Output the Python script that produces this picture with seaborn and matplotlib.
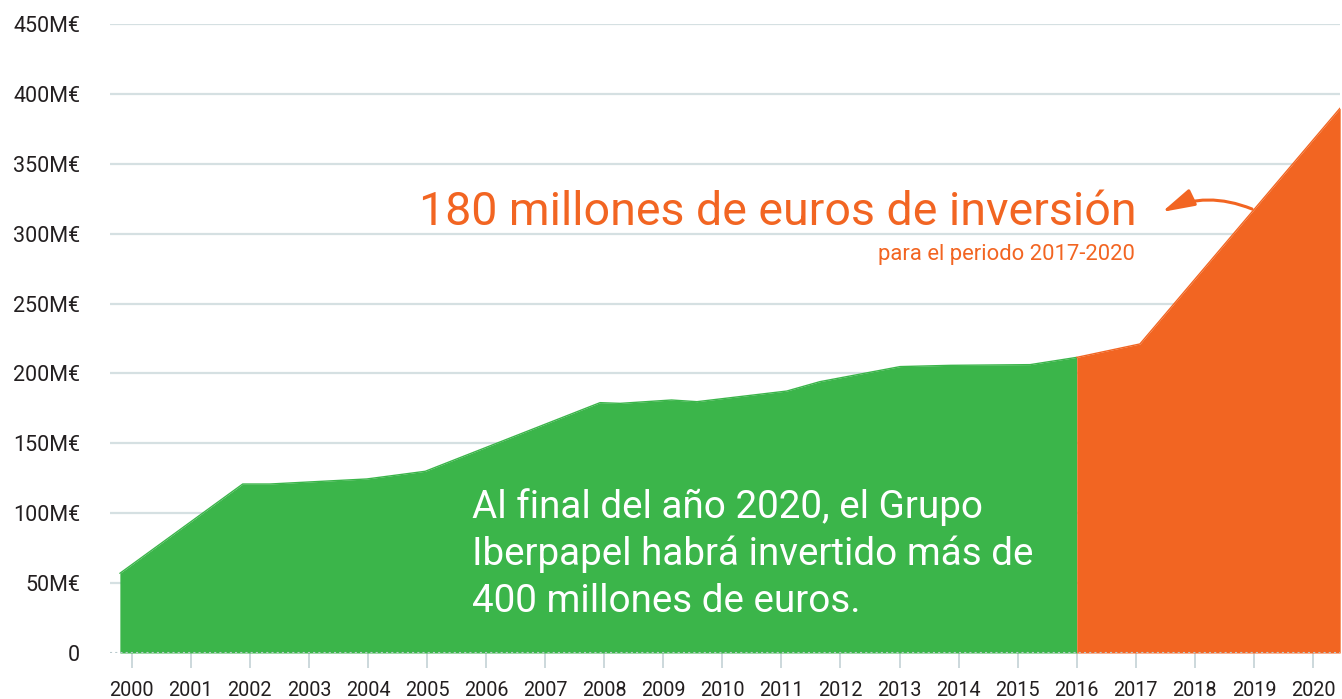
import matplotlib
matplotlib.use("Agg")
import matplotlib.pyplot as plt
import seaborn as sns
import numpy as np

# ---- data ----
green_years = [1999.80, 2001.88, 2002.34, 2003.98, 2004.97, 2007.93, 2008.27,
               2009.14, 2009.57, 2011.09, 2011.65, 2013.01, 2013.86, 2015.21, 2016.00]
green_values = [57.0, 120.9, 120.9, 124.5, 130.0, 179.1, 178.6,
                181.0, 179.8, 187.4, 194.1, 204.9, 205.8, 206.3, 211.5]
orange_years = [2016.00, 2017.07, 2020.46]
orange_values = [211.5, 221.1, 389.9]

year_ticks = list(range(2000, 2021))
year_labels = [str(y) for y in year_ticks]
value_ticks = list(range(0, 451, 50))
value_labels = ["0" if v == 0 else f"{v}M€" for v in value_ticks]

title_text = "180 millones de euros de inversión"
subtitle_text = "para el periodo 2017-2020"
body_lines = ["Al final del año 2020, el Grupo",
              "Iberpapel habrá invertido más de",
              "400 millones de euros."]

GREEN = "#3bb54a"
ORANGE = "#f26522"
GRID = "#d5e0e2"
TICKC = "#c3d2d6"
TEXTC = "#231f20"

sns.set_theme(style="white")
plt.rcParams["font.family"] = ["Roboto", "DejaVu Sans"]

W, H = 1342, 699
fig = plt.figure(figsize=(W / 100, H / 100), dpi=100)
fig.patch.set_facecolor("white")
ax = fig.add_axes([110 / W, 46 / H, 1230 / W, 629 / H])
ax.set_facecolor("white")

# gridlines (except zero, which is dotted)
for v in value_ticks[1:]:
    ax.axhline(v, color=GRID, lw=1.6, zorder=0)

ax.fill_between(green_years, green_values, 0, color=GREEN, lw=0, zorder=2)
ax.fill_between(orange_years, orange_values, 0, color=ORANGE, lw=0, zorder=2)
sns.lineplot(x=green_years, y=green_values, color=GREEN, lw=1, ax=ax,
             estimator=None, sort=False, zorder=3)
sns.lineplot(x=orange_years, y=orange_values, color=ORANGE, lw=1, ax=ax,
             estimator=None, sort=False, zorder=3)

ax.axhline(0, color="#b9c9cd", lw=1.5, ls=(0, (1, 1.5)), zorder=4)

ax.set_xlim(1999.633, 2020.457)
ax.set_ylim(0, 450)
ax.set_xticks(year_ticks)
ax.set_xticklabels(year_labels)
ax.set_yticks(value_ticks)
ax.set_yticklabels(value_labels)
ax.tick_params(axis="x", bottom=True, length=11, width=1.2, color=TICKC,
               direction="out", pad=9, labelsize=14.3, labelcolor=TEXTC)
ax.tick_params(axis="y", left=False, length=0, pad=21.5, labelsize=15.5,
               labelcolor=TEXTC)
for s in ax.spines.values():
    s.set_visible(False)
ax.set_xlabel("")
ax.set_ylabel("")

def fx(px):
    return px / W

def fy(py):
    return 1 - py / H

fig.text(fx(1137), fy(225), title_text, color=ORANGE, fontsize=33.5,
         ha="right", va="baseline")
fig.text(fx(1135), fy(260), subtitle_text, color=ORANGE, fontsize=15.8,
         ha="right", va="baseline")

for line, base in zip(body_lines, [518, 565, 612]):
    fig.text(fx(472), fy(base), line, color="white", fontsize=27.8,
             ha="left", va="baseline")

ax.annotate("", xy=(fx(1162), fy(212)), xycoords="figure fraction",
            xytext=(fx(1252), fy(209)), textcoords="figure fraction",
            arrowprops=dict(arrowstyle="-|>,head_length=1.1,head_width=0.3",
                            color=ORANGE, lw=2.2, mutation_scale=18,
                            shrinkA=0, shrinkB=0,
                            connectionstyle="arc3,rad=0.22"),
            zorder=6)

fig.savefig("out.png", dpi=100, facecolor="white")
